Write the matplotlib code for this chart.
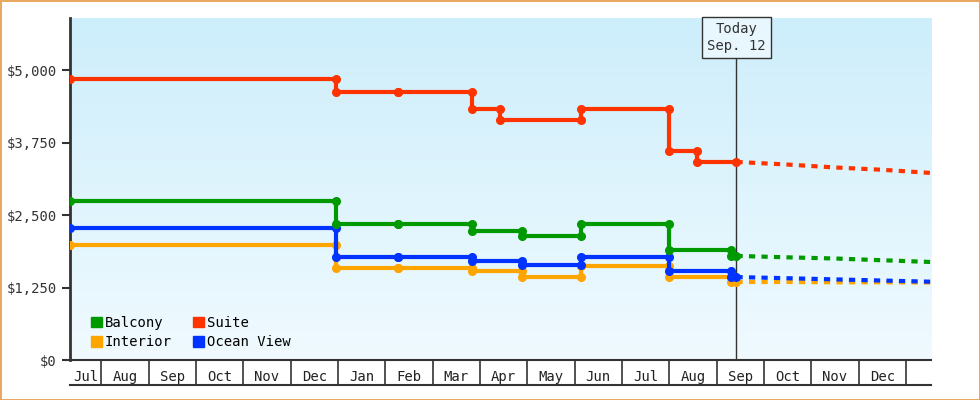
import matplotlib
matplotlib.use("Agg")
import matplotlib.pyplot as plt
import numpy as np
from matplotlib.patches import Patch
from matplotlib.lines import Line2D
from matplotlib.colors import LinearSegmentedColormap

plt.rcParams['font.family'] = ['DejaVu Sans Mono']

months = ["Jul","Aug","Sep","Oct","Nov","Dec","Jan","Feb","Mar","Apr","May","Jun","Jul","Aug","Sep","Oct","Nov","Dec"]
x_start, x_end = 0.34, 18.53
today = 14.42

breaks = {
    "Suite":      [0.34, 5.97, 7.26, 8.83, 9.42, 11.13, 12.99, 13.58, 14.42],
    "Balcony":    [0.34, 5.97, 7.26, 8.83, 9.88, 11.13, 12.99, 14.30, 14.42],
    "Ocean View": [0.34, 5.97, 7.26, 8.83, 9.88, 11.13, 12.99, 14.30, 14.42],
    "Interior":   [0.34, 5.97, 7.26, 8.83, 9.88, 11.13, 12.99, 14.30, 14.42],
}
levels = {
    "Suite":      [4845, 4620, 4620, 4330, 4140, 4330, 3600, 3415],
    "Balcony":    [2740, 2345, 2345, 2225, 2140, 2345, 1900, 1795],
    "Ocean View": [2275, 1775, 1775, 1705, 1640, 1775, 1535, 1430],
    "Interior":   [1980, 1585, 1585, 1535, 1430, 1620, 1430, 1345],
}
fc_x = [14.42, 15.5, 16.5, 17.5, 18.53]
forecast = {
    "Suite":      [3415, 3370, 3320, 3280, 3225],
    "Balcony":    [1795, 1770, 1750, 1720, 1690],
    "Ocean View": [1430, 1410, 1390, 1370, 1350],
    "Interior":   [1345, 1345, 1340, 1340, 1335],
}
colors = {"Balcony": "#009900", "Suite": "#ff3300", "Interior": "#ffa500", "Ocean View": "#0033ff"}

fig = plt.figure(figsize=(9.8, 4.0), dpi=100)
fig.patch.set_edgecolor("#e8a860"); fig.patch.set_linewidth(2)
ax = fig.add_axes([70/980, 40/400, 861/980, 342/400])
ymax = 5897
ax.set_xlim(x_start, x_end); ax.set_ylim(0, ymax)
grad = np.linspace(0, 1, 256).reshape(-1, 1)
cm = LinearSegmentedColormap.from_list("g", ["#f0faff", "#cdeefb"])
ax.imshow(grad, extent=[x_start, x_end, 0, ymax], origin="lower", aspect="auto", cmap=cm, zorder=0)

for name in ["Interior", "Ocean View", "Balcony", "Suite"]:
    b, l = breaks[name], levels[name]
    xs, ys = [], []
    for i, v in enumerate(l):
        xs += [b[i], b[i+1]]; ys += [v, v]
    ax.plot(xs, ys, color=colors[name], lw=3, marker="o", ms=5.5, zorder=3)
    ax.plot(fc_x, forecast[name], color=colors[name], lw=3, ls=(0, (1.5, 1.5)), zorder=3)

ax.axvline(today, color="#333333", lw=1, zorder=2)
ax.text(today, 5820, "Today\nSep. 12", ha="center", va="top", fontsize=10, color="#333333",
        bbox=dict(boxstyle="square,pad=0.4", fc="#e8f7fd", ec="#333333", lw=1), zorder=5)

ax.set_yticks([0, 1250, 2500, 3750, 5000])
ax.set_yticklabels(["$0", "$1,250", "$2,500", "$3,750", "$5,000"], fontsize=10, color="#333333")
ax.tick_params(axis="y", length=6, width=1.5, color="#333333")
ax.set_xticks(np.arange(1, 19), minor=True)
ax.set_xticks([0.67] + [i + 0.5 for i in range(1, 18)])
ax.set_xticklabels(months, fontsize=10, color="#222222")
ax.tick_params(axis="x", which="major", length=0, pad=7)
ax.tick_params(axis="x", which="minor", length=18, width=1.2, color="#333333")
for s in ["top", "right"]:
    ax.spines[s].set_visible(False)
ax.spines["left"].set_linewidth(2); ax.spines["left"].set_color("#333333")
ax.spines["bottom"].set_linewidth(1.5); ax.spines["bottom"].set_color("#333333")
fig.add_artist(Line2D([70/980, 931/980], [15/400, 15/400], color="#333333", lw=1.5))

handles = [Patch(color=colors[n]) for n in ["Balcony", "Interior", "Suite", "Ocean View"]]
ax.legend(handles, ["Balcony", "Interior", "Suite", "Ocean View"], ncol=2, loc="lower left",
          bbox_to_anchor=(0.01, -0.005), frameon=False, fontsize=10, handlelength=0.8, handleheight=0.8,
          handletextpad=0.2, columnspacing=1.5, labelspacing=0.4)
fig.savefig("out.png", dpi=100, edgecolor=fig.get_edgecolor())
